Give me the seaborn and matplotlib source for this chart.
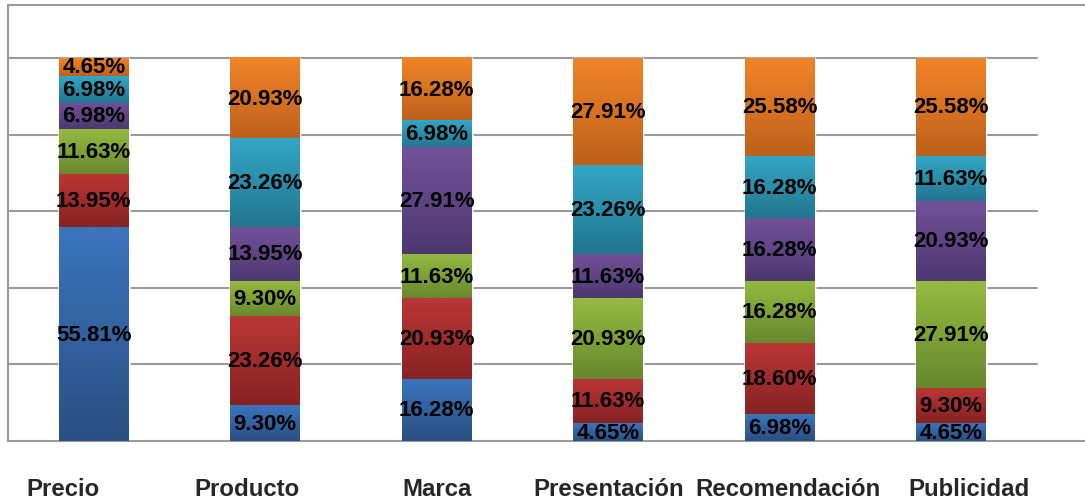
import matplotlib
matplotlib.use("Agg")
import matplotlib.pyplot as plt
from matplotlib.colors import to_rgb
from matplotlib.transforms import ScaledTranslation
import seaborn as sns
import numpy as np
import pandas as pd

# categories and series (bottom -> top of each stack)
categories = ["Precio", "Producto", "Marca", "Presentación", "Recomendación", "Publicidad"]
azul = [55.81, 9.30, 16.28, 4.65, 6.98, 4.65]
rojo = [13.95, 23.26, 20.93, 11.63, 18.60, 9.30]
verde = [11.63, 9.30, 11.63, 20.93, 16.28, 27.91]
morado = [6.98, 13.95, 27.91, 11.63, 16.28, 20.93]
turquesa = [6.98, 23.26, 6.98, 23.26, 16.28, 11.63]
naranja = [4.65, 20.93, 16.28, 27.91, 25.58, 25.58]

series = [azul, rojo, verde, morado, turquesa, naranja]
# (top colour, bottom colour) for the gradient fill of each series
colours = [
    ("#3b75bd", "#2a4f82"),
    ("#bb3636", "#872323"),
    ("#95ba40", "#68882e"),
    ("#72529a", "#4d3870"),
    ("#33a7c6", "#22768f"),
    ("#f08428", "#bf611b"),
]

sns.set_theme(style="white")
plt.rcParams["font.family"] = ["Liberation Sans", "DejaVu Sans"]

fig = plt.figure(figsize=(10.85, 5.02), dpi=100)
ax = fig.add_axes([8 / 1085, 60 / 502, 1077 / 1085, 436 / 502])

df = pd.DataFrame(np.array(series).T, columns=range(len(series)))
df["categoria"] = categories
cum = df[list(range(len(series)))].cumsum(axis=1)

# draw from the full stack down so each layer sits on top of the previous
bar_w = 0.408
for k in reversed(range(len(series))):
    sns.barplot(x=df["categoria"], y=cum[k], color=colours[k][1], width=bar_w,
                saturation=1, ax=ax, zorder=2, errorbar=None)

# gradient fills + labels per segment
for k in range(len(series)):
    top_c = np.array(to_rgb(colours[k][0]))
    bot_c = np.array(to_rgb(colours[k][1]))
    grad = np.linspace(top_c, bot_c, 64).reshape(64, 1, 3)
    for i in range(len(categories)):
        top = cum[k][i]
        bottom = top - series[k][i]
        ax.imshow(grad, extent=[i - bar_w / 2, i + bar_w / 2, bottom, top],
                  aspect="auto", zorder=3, interpolation="bilinear")
        ax.text(i, (top + bottom) / 2, f"{series[k][i]:.2f}%", ha="center", va="center",
                fontsize=16, fontweight="bold", color="black", zorder=5)

ax.set_xlim(-0.5, 5.78)
ax.set_ylim(0, 436 / 383 * 100)

for y in [20, 40, 60, 80, 100]:
    ax.axhline(y, xmin=0, xmax=1029 / 1077, color="#9a9a9a", lw=1.5, zorder=1)

for side in ["left", "top", "bottom"]:
    ax.spines[side].set_color("#9a9a9a")
    ax.spines[side].set_linewidth(1.5)
ax.spines["right"].set_visible(False)

ax.set_yticks([])
ax.set_xlabel("")
ax.set_ylabel("")
ax.tick_params(axis="x", length=0, pad=26)
# category labels are spread out a little in the original
shifts = [-31, -18, 0, 0, 8, 18]
for lab, dx in zip(ax.get_xticklabels(), shifts):
    lab.set_fontweight("bold")
    lab.set_fontsize(17.3)
    lab.set_transform(lab.get_transform() + ScaledTranslation(dx / 100, 0, fig.dpi_scale_trans))

fig.savefig("out.png", dpi=100)
